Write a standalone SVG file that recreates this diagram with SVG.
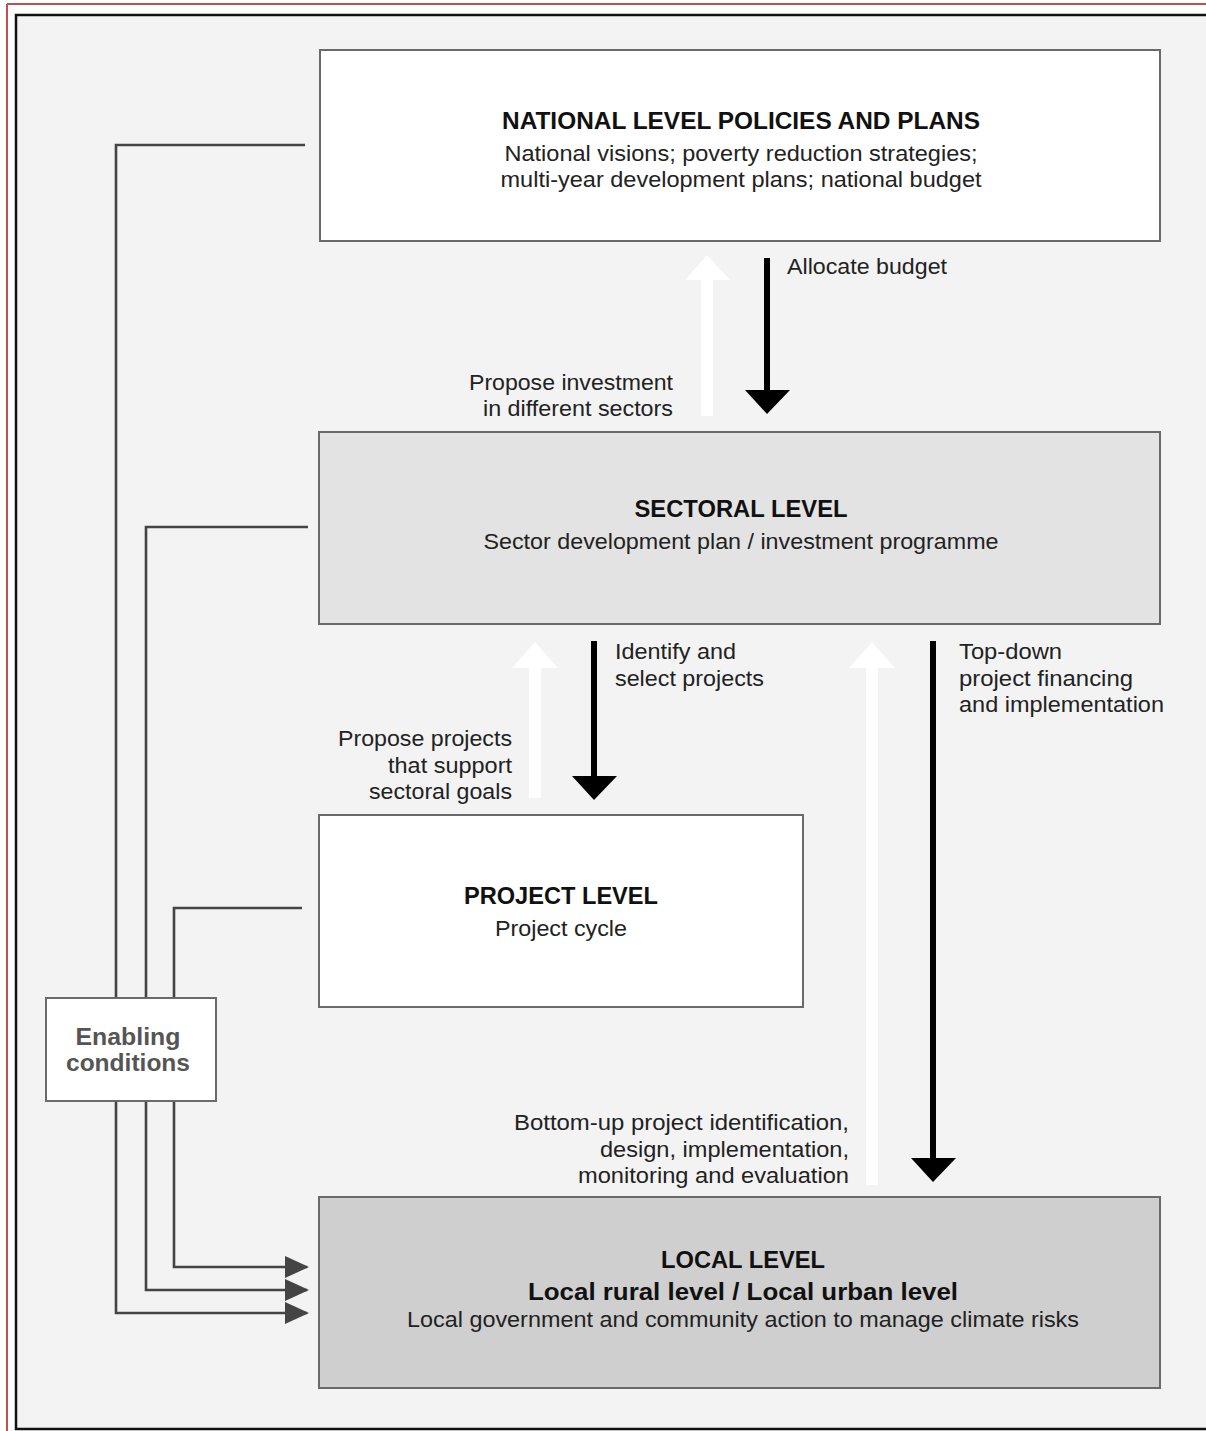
<svg xmlns="http://www.w3.org/2000/svg" width="1206" height="1431" viewBox="0 0 1206 1431">
  <defs>
    <marker id="arrGray" viewBox="0 0 24 22" refX="22" refY="11" markerWidth="24" markerHeight="22" markerUnits="userSpaceOnUse" orient="auto">
      <path d="M0,0 L24,11 L0,22 Z" fill="#444"/>
    </marker>
    <style>
      .box { stroke: #6a6a6a; stroke-width: 2; }
      .link { fill: none; stroke: #444; stroke-width: 2.6; }
      .t { font-family: "Liberation Sans", Arial, sans-serif; font-size: 22px; fill: #222; }
      .b { font-family: "Liberation Sans", Arial, sans-serif; font-size: 23px; font-weight: bold; fill: #111; }
      .c { text-anchor: middle; }
      .r { text-anchor: end; }
      .down { fill: #000; }
      .up { fill: #fff; }
    </style>
  </defs>

  <!-- page frame -->
  <rect x="0" y="0" width="1206" height="1431" fill="#fff"/>
  <line x1="7" y1="4" x2="1206" y2="4" stroke="#c0504d" stroke-width="2"/>
  <line x1="7" y1="4" x2="7" y2="1431" stroke="#c0504d" stroke-width="2"/>
  <rect x="16" y="15" width="1200" height="1414" fill="#f3f3f3" stroke="#111" stroke-width="2.5"/>

  <!-- connectors from enabling conditions -->
  <g id="connectors">
    <polyline class="link" points="305,145 116,145 116,1313 307,1313" marker-end="url(#arrGray)"/>
    <polyline class="link" points="308,527 146,527 146,1290 307,1290" marker-end="url(#arrGray)"/>
    <polyline class="link" points="302,908 174,908 174,1267 307,1267" marker-end="url(#arrGray)"/>

    <!-- national <-> sectoral -->
    <path class="up" d="M701,416 L701,280 L685,280 L707,255 L730,280 L713,280 L713,416 Z"/>
    <path class="down" d="M764,258 L770,258 L770,390 L790,390 L767,414 L745,390 L764,390 Z"/>

    <!-- sectoral <-> project -->
    <path class="up" d="M529,798 L529,668 L512,668 L535,642 L558,668 L541,668 L541,798 Z"/>
    <path class="down" d="M591,641 L597,641 L597,776 L617,776 L594,800 L572,776 L591,776 Z"/>

    <!-- sectoral <-> local -->
    <path class="up" d="M866,1185 L866,668 L849,668 L872,642 L895,668 L878,668 L878,1185 Z"/>
    <path class="down" d="M930,641 L936,641 L936,1158 L956,1158 L933,1182 L911,1158 L930,1158 Z"/>
  </g>

  <g id="national">
    <rect class="box" x="320" y="50" width="840" height="191" fill="#fff"/>
    <text class="b c" x="741" y="129" textLength="478" lengthAdjust="spacingAndGlyphs">NATIONAL LEVEL POLICIES AND PLANS</text>
    <text class="t c" x="741" y="161" textLength="473" lengthAdjust="spacingAndGlyphs">National visions; poverty reduction strategies;</text>
    <text class="t c" x="741" y="187" textLength="481" lengthAdjust="spacingAndGlyphs">multi-year development plans; national budget</text>
  </g>

  <g id="label-allocate">
    <text class="t" x="787" y="274" textLength="160" lengthAdjust="spacingAndGlyphs">Allocate budget</text>
  </g>
  <g id="label-propose-investment">
    <text class="t r" x="673" y="390" textLength="204" lengthAdjust="spacingAndGlyphs">Propose investment</text>
    <text class="t r" x="673" y="416" textLength="190" lengthAdjust="spacingAndGlyphs">in different sectors</text>
  </g>

  <g id="sectoral">
    <rect class="box" x="319" y="432" width="841" height="192" fill="#e3e3e3"/>
    <text class="b c" x="741" y="517" textLength="213" lengthAdjust="spacingAndGlyphs">SECTORAL LEVEL</text>
    <text class="t c" x="741" y="549" textLength="515" lengthAdjust="spacingAndGlyphs">Sector development plan / investment programme</text>
  </g>

  <g id="label-identify">
    <text class="t" x="615" y="659" textLength="121" lengthAdjust="spacingAndGlyphs">Identify and</text>
    <text class="t" x="615" y="686" textLength="149" lengthAdjust="spacingAndGlyphs">select projects</text>
  </g>
  <g id="label-topdown">
    <text class="t" x="959" y="659" textLength="103" lengthAdjust="spacingAndGlyphs">Top-down</text>
    <text class="t" x="959" y="686" textLength="174" lengthAdjust="spacingAndGlyphs">project financing</text>
    <text class="t" x="959" y="712" textLength="205" lengthAdjust="spacingAndGlyphs">and implementation</text>
  </g>
  <g id="label-propose-projects">
    <text class="t r" x="512" y="746" textLength="174" lengthAdjust="spacingAndGlyphs">Propose projects</text>
    <text class="t r" x="512" y="773" textLength="124" lengthAdjust="spacingAndGlyphs">that support</text>
    <text class="t r" x="512" y="799" textLength="143" lengthAdjust="spacingAndGlyphs">sectoral goals</text>
  </g>

  <g id="project">
    <rect class="box" x="319" y="815" width="484" height="192" fill="#fff"/>
    <text class="b c" x="561" y="904" textLength="194" lengthAdjust="spacingAndGlyphs">PROJECT LEVEL</text>
    <text class="t c" x="561" y="936" textLength="132" lengthAdjust="spacingAndGlyphs">Project cycle</text>
  </g>

  <g id="enabling">
    <rect class="box" x="46" y="998" width="170" height="103" fill="#fff"/>
    <text class="b c" x="128" y="1045" style="fill:#555" textLength="105" lengthAdjust="spacingAndGlyphs">Enabling</text>
    <text class="b c" x="128" y="1071" style="fill:#555" textLength="124" lengthAdjust="spacingAndGlyphs">conditions</text>
  </g>

  <g id="label-bottomup">
    <text class="t r" x="849" y="1130" textLength="335" lengthAdjust="spacingAndGlyphs">Bottom-up project identification,</text>
    <text class="t r" x="849" y="1157" textLength="249" lengthAdjust="spacingAndGlyphs">design, implementation,</text>
    <text class="t r" x="849" y="1183" textLength="271" lengthAdjust="spacingAndGlyphs">monitoring and evaluation</text>
  </g>

  <g id="local">
    <rect class="box" x="319" y="1197" width="841" height="191" fill="#cfcfcf"/>
    <text class="b c" x="743" y="1268" textLength="164" lengthAdjust="spacingAndGlyphs">LOCAL LEVEL</text>
    <text class="b c" x="743" y="1300" textLength="430" lengthAdjust="spacingAndGlyphs">Local rural level / Local urban level</text>
    <text class="t c" x="743" y="1327" textLength="672" lengthAdjust="spacingAndGlyphs">Local government and community action to manage climate risks</text>
  </g>
</svg>
